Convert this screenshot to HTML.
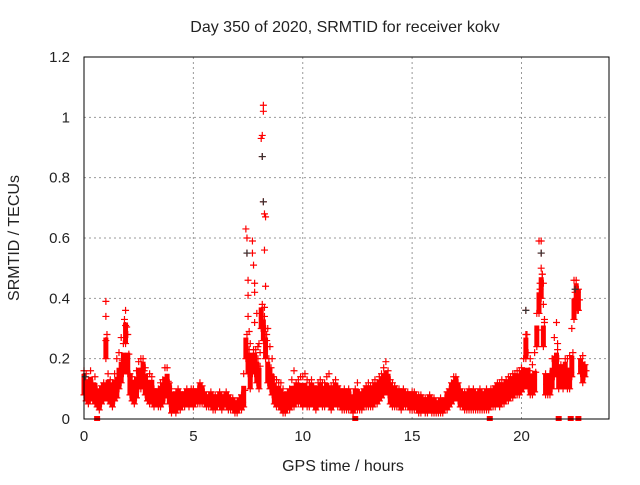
<!DOCTYPE html>
<html><head><meta charset="utf-8"><style>
html,body{margin:0;padding:0;background:#fff;}
svg text{font-family:"Liberation Sans",sans-serif;font-size:15px;fill:#222;}
svg text.ttl{font-size:16px;}
</style></head><body>
<svg id="chart" width="640" height="480" viewBox="0 0 640 480" xmlns="http://www.w3.org/2000/svg">
<rect width="640" height="480" fill="#fff"/>
<text class="ttl" x="345" y="32" text-anchor="middle">Day 350 of 2020, SRMTID for receiver kokv</text>
<text class="ttl" transform="translate(19,238) rotate(-90)" text-anchor="middle">SRMTID / TECUs</text>
<text class="ttl" x="343" y="471" text-anchor="middle">GPS time / hours</text>
<g id="grid"></g><g id="marks"></g><g id="axes"></g>
</svg>
<script>
const xTicks=[0,5,10,15,20];
const yTicks=[0,0.2,0.4,0.6,0.8,1,1.2];
const yTickLabels=["0","0.2","0.4","0.6","0.8","1","1.2"];
const loVals=[.08,.06,.05,.07,.06,.05,.04,.03,.05,.06,
.2,.06,.05,.04,.06,.07,.10,.12,.15,.25,
.15,.08,.06,.05,.07,.10,.10,.12,.08,.06,
.05,.06,.04,.05,.04,.04,.05,.07,.08,.05,
.02,.03,.02,.04,.03,.04,.04,.05,.04,.05,
.04,.05,.05,.05,.05,.05,.04,.04,.04,.03,
.03,.04,.04,.03,.04,.04,.03,.03,.03,.02,
.02,.03,.03,.04,.2,.15,.1,.15,.15,.12,
.1,.3,.26,.2,.12,.1,.08,.05,.04,.04,
.03,.02,.02,.03,.03,.04,.04,.05,.05,.05,
.04,.05,.04,.04,.05,.04,.03,.04,.05,.04,
.04,.05,.04,.03,.04,.05,.04,.04,.03,.03,
.03,.03,.03,.02,.03,.03,.03,.03,.04,.04,
.04,.04,.04,.05,.05,.06,.07,.08,.09,.08,
.05,.04,.04,.04,.04,.03,.04,.04,.04,.03,
.03,.03,.03,.02,.02,.03,.02,.02,.03,.02,
.02,.02,.02,.02,.02,.03,.03,.04,.05,.06,
.07,.06,.04,.04,.03,.03,.03,.03,.03,.03,
.03,.03,.03,.03,.03,.03,.04,.04,.04,.05,
.04,.05,.05,.06,.06,.07,.07,.08,.08,.08,
.09,.1,.2,.1,.08,.08,.09,.24,.35,.4,
.24,.08,.08,.08,.1,.14,.15,.1,.12,.1,
.12,.1,.1,.14,.33,.38,.36,.15,.12,.14];
const hiVals=[.16,.15,.13,.16,.12,.14,.10,.09,.11,.12,
.39,.15,.13,.12,.15,.2,.22,.27,.25,.36,
.28,.15,.14,.12,.16,.19,.2,.2,.17,.14,
.15,.14,.1,.08,.1,.12,.13,.17,.17,.12,
.1,.08,.09,.1,.09,.08,.09,.1,.09,.1,
.1,.09,.1,.12,.11,.09,.08,.08,.09,.08,
.08,.07,.09,.08,.08,.09,.08,.07,.07,.06,
.06,.07,.08,.15,.63,.41,.25,.59,.45,.35,
.25,.93,1.04,.67,.3,.24,.2,.13,.13,.12,
.12,.1,.08,.09,.1,.13,.16,.12,.13,.14,
.14,.15,.13,.12,.13,.11,.1,.12,.13,.12,
.12,.14,.15,.11,.12,.13,.11,.1,.09,.1,
.09,.1,.08,.07,.1,.12,.08,.09,.1,.11,
.12,.11,.12,.13,.12,.14,.15,.17,.19,.16,
.13,.12,.11,.1,.1,.09,.1,.09,.09,.08,
.09,.09,.08,.08,.08,.07,.07,.07,.08,.07,
.07,.06,.06,.07,.06,.07,.09,.1,.12,.14,
.14,.12,.1,.09,.09,.08,.1,.09,.1,.09,
.09,.1,.09,.09,.1,.08,.1,.1,.11,.12,
.12,.13,.12,.13,.14,.14,.15,.15,.16,.16,
.17,.2,.36,.22,.2,.18,.22,.35,.59,.59,
.45,.15,.12,.15,.2,.27,.32,.2,.18,.15,
.2,.2,.21,.3,.46,.46,.43,.2,.21,.18];
const spikeHours=[8.15,8.2,8.15,8.2,8.25,8.25,7.45,7.45,7.7,7.75,1.0,1.0,20.9,20.9,20.85,7.5,7.8,8.3,7.5,7.55,7.8,8.25,8.3,20.2,20.25,20.85,20.95,21.0,21.05,22.45,22.5,22.55,21.65,1.9,1.85,7.65,7.95,8.05,8.35];
const spikeVals=[0.87,1.02,0.94,0.72,0.68,0.56,0.6,0.55,0.55,0.51,0.26,0.34,0.55,0.5,0.45,0.46,0.42,0.44,0.34,0.29,0.32,0.37,0.3,0.28,0.22,0.4,0.48,0.38,0.33,0.42,0.4,0.36,0.25,0.31,0.33,0.2,0.24,0.22,0.26];
const blackHours=[8.15,20.2,20.9,8.2,7.45,22.45,0.05];
const blackVals=[0.87,0.36,0.55,0.72,0.55,0.43,0.14];
const zeroHours=[0.6,12.4,18.55,21.7,22.25,22.6];
const hours=loVals.map((_,i)=>i/10);

const X0=84,X1=609,Y0=419,Y1=57;
const xs=h=>X0+(X1-X0)*h/24;
const ys=v=>Y0-(Y0-Y1)*v/1.2;
const NS="http://www.w3.org/2000/svg";
const grid=document.getElementById('grid'),marks=document.getElementById('marks'),axes=document.getElementById('axes');
function mk(tag,attrs,parent){const e=document.createElementNS(NS,tag);for(const k in attrs)e.setAttribute(k,attrs[k]);parent.appendChild(e);return e;}
xTicks.forEach(t=>{
  if(t>0){const g=mk('line',{x1:xs(t),x2:xs(t),y1:Y0,y2:Y1,stroke:'#999','stroke-dasharray':'2,3'},grid);
  
  }
  const l=mk('text',{x:xs(t),y:Y0+22,'text-anchor':'middle'},axes);l.textContent=t;
  
  
});
yTicks.forEach((t,i)=>{
  if(t>0&&t<1.2){const g=mk('line',{x1:X0,x2:X1,y1:ys(t),y2:ys(t),stroke:'#999','stroke-dasharray':'2,3'},grid);
  
  }
  const l=mk('text',{x:X0-14,y:ys(t)+5,'text-anchor':'end'},axes);l.textContent=yTickLabels[i];
  
  
});
function plus(h,v,color,name){
  const x=xs(h),y=ys(v);
  const p=mk('path',{d:`M${x-3.5},${y}H${x+3.5}M${x},${y-3.5}V${y+3.5}`,stroke:color,'stroke-width':1.2,fill:'none'},marks);
  
  
}
hours.forEach((h,i)=>{
  const lo=loVals[i],hi=hiVals[i];
  const top=Math.min(hi,lo+0.07);
  const r=mk('rect',{x:xs(h)-2.5,y:ys(top),width:5,height:Math.max(1,ys(lo)-ys(top)),fill:'#f00'},marks);
  
  
  plus(h,lo,'#f00','srmtid-point');
  plus(h,hi,'#f00','srmtid-point');
  plus(h+0.05,Math.min((lo+hi)/2,lo+0.08),'#f00','srmtid-point');
});
spikeHours.forEach((h,i)=>plus(h,spikeVals[i],'#f00','srmtid-spike-point'));
blackHours.forEach((h,i)=>plus(h,blackVals[i],'#333','srmtid-black-point'));
zeroHours.forEach(h=>{
  const r=mk('rect',{x:xs(h)-3,y:Y0-3,width:6,height:5,fill:'#f00'},marks);
  
  
});
const f=mk('rect',{x:X0,y:Y1,width:X1-X0,height:Y0-Y1,fill:'none',stroke:'#000','stroke-width':1},axes);


</script>
</body></html>
